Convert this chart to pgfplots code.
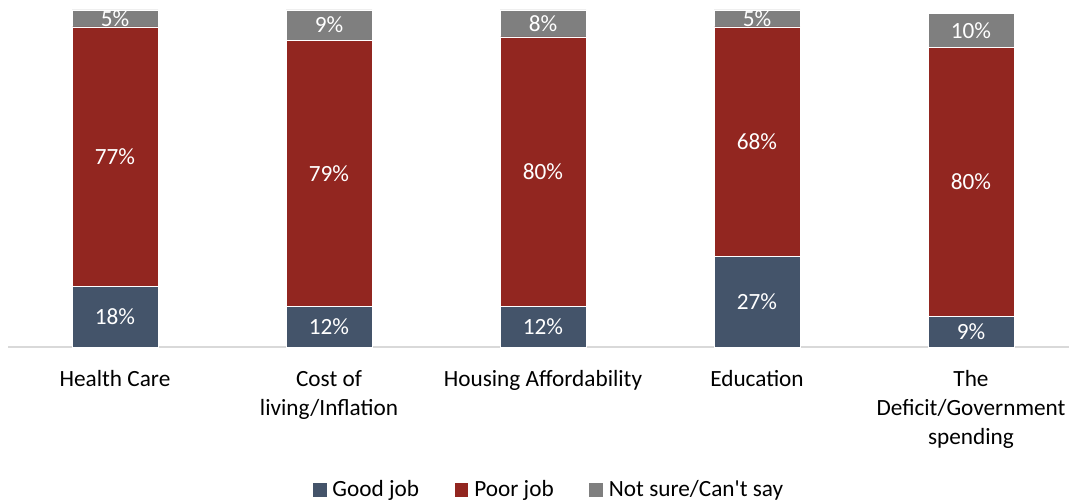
\documentclass[border=0pt]{standalone}
\usepackage{fontspec}
\setmainfont{Carlito}
\usepackage{pgfplots}
\pgfplotsset{compat=1.18}
\definecolor{goodc}{HTML}{44546A}
\definecolor{poorc}{HTML}{922620}
\definecolor{notc}{HTML}{7F7F7F}
\definecolor{axc}{HTML}{D9D9D9}
\pgfplotsset{
  common/.style={
    scale only axis,
    width=795.75bp, height=252.75bp,
    xmin=-0.5, xmax=4.458,
    ymin=0, ymax=100,
    clip=false,
  }
}
\begin{document}
\begin{tikzpicture}
\begin{axis}[
  common,
  ybar stacked,
  bar width=64.5bp,
  axis y line=none,
  axis x line*=bottom,
  x axis line style={draw=axc, line width=1bp, -},
  xtick={0,1,2,3,4},
  xtick style={draw=none},
  xticklabels={Health Care, Cost of\\living/Inflation, Housing Affordability, Education, The\\Deficit/Government\\spending},
  xticklabel style={align=center, font=\fontsize{17.5}{21.75}\selectfont, text=black, yshift=-14bp},
  legend style={at={(0.511,-0.424)}, anchor=center, draw=none, legend columns=-1,
    font=\fontsize{17.5}{20}\selectfont,
    nodes={inner xsep=4bp},
    /tikz/every even column/.append style={column sep=22bp}},
  legend image code/.code={\fill[#1] (0bp,-5.5bp) rectangle (11bp,5.5bp);},
]
\addplot[fill=goodc, draw=white, line width=0.4bp] coordinates {(0,18) (1,12) (2,12) (3,27) (4,9)};
\addplot[fill=poorc, draw=white, line width=0.4bp] coordinates {(0,77) (1,79) (2,80) (3,68) (4,80)};
\addplot[fill=notc, draw=white, line width=0.4bp] coordinates {(0,5) (1,9) (2,8) (3,5) (4,10)};
\legend{Good job, Poor job, Not sure/Can\textquotesingle t say}
\coordinate (bl) at (rel axis cs:0,0);
\end{axis}
\begin{axis}[common, hide axis]
\addplot[draw=none, mark=none, point meta=explicit symbolic,
  nodes near coords={\pgfplotspointmeta\%},
  every node near coord/.style={anchor=center, text=white, font=\fontsize{17.5}{20}\selectfont}]
  table[meta=lab] {
x y lab
0 9 18
1 6 12
2 6 12
3 13.5 27
4 4.5 9
0 56.5 77
1 51.5 79
2 52 80
3 61 68
4 49 80
0 97.5 5
1 95.5 9
2 96 8
3 97.5 5
4 94 10
};
\end{axis}
\pgfresetboundingbox
\path (bl) ++(-6bp,-117bp) rectangle ++(801.75bp,377.25bp);
\end{tikzpicture}
\end{document}
